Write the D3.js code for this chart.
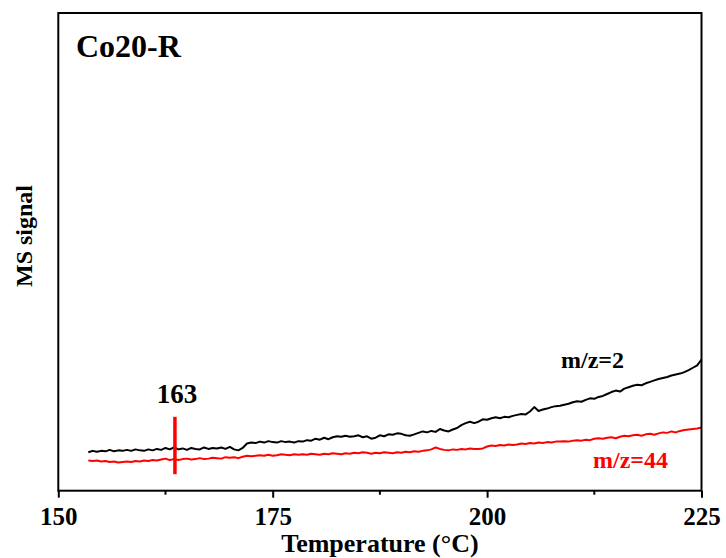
<!DOCTYPE html>
<html>
<head>
<meta charset="utf-8">
<script src="https://cdn.jsdelivr.net/npm/d3@7"></script>
<style>
  body { margin: 0; background: #fff; }
  svg { display: block; }
  text { font-family: "Liberation Serif", "Times New Roman", serif; font-weight: bold; }
</style>
</head>
<body>
<div id="chart"></div>
<script>
// temperature grid of the recorded signal, deg C (0.5 deg steps)
var temps = d3.range(153.5, 225.01, 0.5);

// m/z=2 (black), a.u.
var mz2 = [
  9.6, 9.9, 9.7, 9.9, 9.8, 10.1, 9.8, 10.0, 9.9, 10.1,
  9.9, 10.2, 10.0, 9.9, 10.2, 10.0, 10.3, 10.1, 10.5, 10.2,
  10.6, 10.2, 10.4, 10.1, 10.5, 10.3, 10.2, 10.6, 10.3, 10.5,
  10.4, 10.6, 10.3, 10.7, 10.2, 10.0, 10.5, 11.4, 11.6, 11.5,
  11.8, 11.6, 11.9, 11.7, 11.6, 11.9, 11.7, 11.8, 11.6, 11.9,
  11.8, 12.1, 12.0, 12.4, 12.2, 12.6, 12.3, 12.7, 12.9, 12.8,
  13.0, 12.8, 12.9, 13.1, 12.7, 12.9, 12.4, 12.6, 13.1, 12.9,
  13.3, 13.2, 13.5, 13.4, 13.1, 13.0, 13.3, 13.6, 13.9, 13.7,
  14.0, 13.8, 14.4, 14.1, 13.9, 14.3, 14.6, 15.2, 15.6, 15.9,
  15.6, 15.9, 16.4, 16.3, 16.6, 16.8, 16.6, 16.9, 16.8, 17.1,
  17.3, 17.5, 17.4, 18.0, 18.9, 18.1, 18.4, 18.6, 18.9, 19.1,
  19.2, 19.4, 19.6, 19.9, 20.1, 20.0, 20.4, 20.7, 20.6, 21.0,
  21.2, 21.6, 22.0, 22.3, 22.1, 22.7, 23.0, 23.3, 23.5, 23.4,
  23.8, 24.1, 24.4, 24.7, 24.9, 25.1, 25.4, 25.6, 25.8, 26.1,
  26.5, 27.0, 27.5, 28.7
];

// m/z=44 (red), a.u.
var mz44 = [
  7.9, 7.8, 7.9, 7.7, 7.8, 7.6, 7.7, 7.5, 7.6, 7.7,
  7.6, 7.8, 7.7, 7.9, 7.8, 8.0, 7.9, 8.1, 8.3, 8.0,
  8.2, 8.0, 8.2, 8.3, 8.1, 8.2, 8.4, 8.2, 8.3, 8.5,
  8.4, 8.3, 8.6, 8.5, 8.6, 8.4, 8.7, 8.9, 8.8, 8.9,
  9.0, 8.9, 9.1, 8.9, 9.0, 9.2, 9.1, 9.0, 9.2, 9.1,
  9.2, 9.1, 9.3, 9.2, 9.1, 9.3, 9.2, 9.4, 9.3, 9.2,
  9.4, 9.3, 9.5, 9.4, 9.6, 9.5, 9.3, 9.5, 9.4, 9.6,
  9.5, 9.4, 9.6, 9.5, 9.7, 9.6, 9.8, 9.7, 9.9, 10.0,
  10.2, 10.6, 10.3, 10.1, 10.0, 10.2, 10.1, 10.3, 10.2, 10.4,
  10.3, 10.3, 10.4, 10.8, 11.0, 10.9, 11.1, 11.0, 11.2, 11.1,
  11.2, 11.4, 11.3, 11.5, 11.4, 11.6, 11.5, 11.7, 11.6, 11.8,
  11.8, 11.9, 11.8, 12.0, 12.1, 12.0, 12.2, 12.1, 12.4, 12.5,
  12.4, 12.6, 12.7, 12.5, 12.8, 13.0, 12.9, 13.1, 13.2, 13.0,
  13.3, 13.4, 13.2, 13.5, 13.7, 13.6, 13.9, 13.7, 14.0, 14.2,
  14.3, 14.4, 14.5, 14.7
];

var xTicks = [150, 175, 200, 225];
var xMinorTicks = [162.5, 187.5, 212.5];

// onset marker
var onsetT = 163.6;
var onsetLabel = "163";
var onsetRange = [5.1, 16.9];

var W = 726, H = 558;
var margin = { top: 13, right: 24.5, bottom: 67.3, left: 58.3 };
var width = W - margin.left - margin.right;
var height = H - margin.top - margin.bottom;

var svg = d3.select("#chart").append("svg")
  .attr("width", W)
  .attr("height", H);

var g = svg.append("g")
  .attr("transform", "translate(" + margin.left + "," + margin.top + ")");

var x = d3.scaleLinear().domain([150, 225]).range([0, width]);
var y = d3.scaleLinear().domain([1.7, 100]).range([height, 0]);

// curves
var line = d3.line()
  .x(function (d) { return x(d[0]); })
  .y(function (d) { return y(d[1]); });

g.append("path")
  .datum(temps.map(function (t, i) { return [t, mz44[i]]; }))
  .attr("fill", "none")
  .attr("stroke", "#ff0000")
  .attr("stroke-width", 2)
  .attr("stroke-linejoin", "round")
  .attr("d", line);

g.append("path")
  .datum(temps.map(function (t, i) { return [t, mz2[i]]; }))
  .attr("fill", "none")
  .attr("stroke", "#000")
  .attr("stroke-width", 2)
  .attr("stroke-linejoin", "round")
  .attr("d", line);

// onset marker
g.append("line")
  .attr("x1", x(onsetT)).attr("x2", x(onsetT))
  .attr("y1", y(onsetRange[0])).attr("y2", y(onsetRange[1]))
  .attr("stroke", "#ff0000")
  .attr("stroke-width", 3.5);

g.append("text")
  .attr("x", x(onsetT) + 2)
  .attr("y", y(onsetRange[1]) - 14)
  .attr("text-anchor", "middle")
  .attr("font-size", 27)
  .text(onsetLabel);

// box
g.append("rect")
  .attr("width", width)
  .attr("height", height)
  .attr("fill", "none")
  .attr("stroke", "#000")
  .attr("stroke-width", 2);

// bottom axis
var xAxis = g.append("g")
  .attr("transform", "translate(0," + height + ")")
  .call(d3.axisBottom(x).tickValues(xTicks).tickSize(7).tickPadding(10).tickFormat(d3.format("d")));
xAxis.select(".domain").remove();
xAxis.selectAll(".tick line").attr("stroke-width", 2);
xAxis.selectAll(".tick text")
  .attr("font-family", "Liberation Serif, serif")
  .attr("font-weight", "bold")
  .attr("font-size", 25)
  .attr("fill", "#000");

g.append("g")
  .attr("transform", "translate(0," + height + ")")
  .selectAll("line")
  .data(xMinorTicks)
  .enter().append("line")
  .attr("x1", function (d) { return x(d); })
  .attr("x2", function (d) { return x(d); })
  .attr("y1", 0).attr("y2", 4)
  .attr("stroke", "#000")
  .attr("stroke-width", 2);

// labels
svg.append("text")
  .attr("x", margin.left + width / 2)
  .attr("y", 552)
  .attr("text-anchor", "middle")
  .attr("font-size", 26)
  .text("Temperature (\u00B0C)");

svg.append("text")
  .attr("transform", "translate(32," + 236 + ") rotate(-90)")
  .attr("text-anchor", "middle")
  .attr("font-size", 24)
  .text("MS signal");

svg.append("text")
  .attr("x", 76)
  .attr("y", 56.5)
  .attr("font-size", 32)
  .text("Co20-R");

svg.append("text")
  .attr("x", 561)
  .attr("y", 368)
  .attr("font-size", 24)
  .text("m/z=2");

svg.append("text")
  .attr("x", 593)
  .attr("y", 468)
  .attr("font-size", 24)
  .attr("fill", "#ff0000")
  .text("m/z=44");
</script>
</body>
</html>
